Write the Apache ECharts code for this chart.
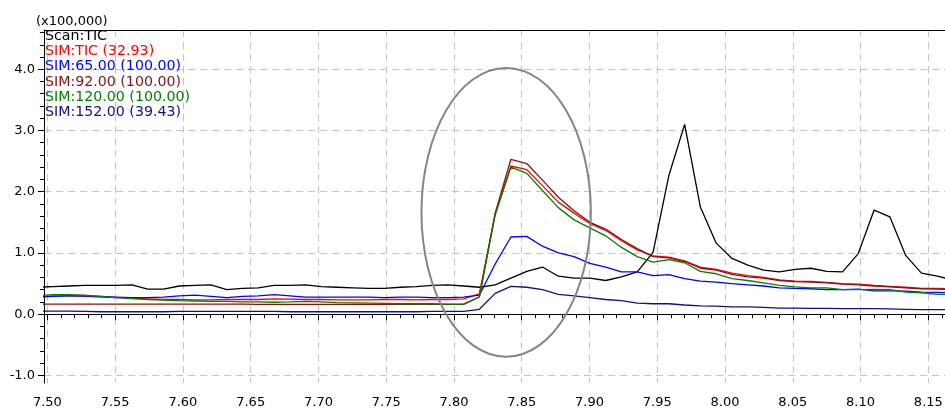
<!DOCTYPE html>
<html>
<head>
<meta charset="utf-8">
<style>
  html, body { margin: 0; padding: 0; background: #ffffff; }
  #chart { width: 945px; height: 408px; }
</style>
<script src="https://cdn.jsdelivr.net/npm/echarts@6/dist/echarts.min.js"></script>
</head>
<body>
<div id="chart"></div>
<script>
// Retention time (min) of each scan
const times = [
  7.4925, 7.5041, 7.5158, 7.5274, 7.5391, 7.5507, 7.5624, 7.5740, 7.5857, 7.5974,
  7.6090, 7.6207, 7.6323, 7.6440, 7.6556, 7.6673, 7.6789, 7.6906, 7.7022, 7.7139,
  7.7255, 7.7372, 7.7488, 7.7605, 7.7721, 7.7838, 7.7954, 7.8071, 7.8187, 7.8304,
  7.8420, 7.8537, 7.8653, 7.8770, 7.8886, 7.9003, 7.9119, 7.9236, 7.9352, 7.9469,
  7.9585, 7.9702, 7.9818, 7.9935, 8.0051, 8.0168, 8.0284, 8.0401, 8.0517, 8.0634,
  8.0750, 8.0867, 8.0983, 8.1100, 8.1216, 8.1333, 8.1449, 8.1566, 8.1682
];

// Intensities in units of 100,000
const scanTIC = [
  0.44, 0.45, 0.46, 0.47, 0.47, 0.47, 0.48, 0.41, 0.41, 0.46,
  0.47, 0.48, 0.40, 0.42, 0.43, 0.47, 0.47, 0.48, 0.45, 0.44,
  0.43, 0.42, 0.42, 0.44, 0.45, 0.47, 0.48, 0.46, 0.44, 0.48,
  0.59, 0.70, 0.77, 0.62, 0.59, 0.59, 0.55, 0.61, 0.69, 1.01,
  2.26, 3.10, 1.75, 1.16, 0.91, 0.80, 0.72, 0.69, 0.73, 0.75,
  0.70, 0.69, 0.99, 1.70, 1.59, 0.96, 0.67, 0.62, 0.56
];
const simTIC = [
  0.28, 0.30, 0.30, 0.29, 0.28, 0.27, 0.26, 0.25, 0.24, 0.24,
  0.235, 0.235, 0.24, 0.24, 0.24, 0.25, 0.245, 0.24, 0.24, 0.235,
  0.235, 0.235, 0.24, 0.24, 0.235, 0.24, 0.24, 0.25, 0.33, 1.64,
  2.42, 2.36, 2.10, 1.83, 1.65, 1.48, 1.37, 1.20, 1.05, 0.95,
  0.93, 0.87, 0.77, 0.73, 0.67, 0.63, 0.60, 0.56, 0.54, 0.535,
  0.52, 0.50, 0.49, 0.47, 0.455, 0.44, 0.42, 0.42, 0.41
];
const sim65 = [
  0.28, 0.29, 0.30, 0.30, 0.29, 0.28, 0.27, 0.27, 0.28, 0.30,
  0.31, 0.29, 0.27, 0.29, 0.30, 0.32, 0.30, 0.28, 0.28, 0.28,
  0.28, 0.28, 0.27, 0.28, 0.28, 0.27, 0.27, 0.28, 0.31, 0.82,
  1.26, 1.27, 1.11, 1.00, 0.94, 0.83, 0.77, 0.69, 0.69, 0.63,
  0.645, 0.58, 0.54, 0.525, 0.50, 0.48, 0.46, 0.43, 0.42, 0.415,
  0.40, 0.40, 0.41, 0.38, 0.38, 0.375, 0.36, 0.355, 0.35
];
const sim92 = [
  0.165, 0.165, 0.165, 0.165, 0.165, 0.165, 0.165, 0.165, 0.165, 0.165,
  0.165, 0.165, 0.165, 0.165, 0.16, 0.16, 0.16, 0.16, 0.16, 0.16,
  0.16, 0.16, 0.16, 0.16, 0.16, 0.16, 0.16, 0.16, 0.28, 1.65,
  2.53, 2.46, 2.19, 1.91, 1.69, 1.50, 1.39, 1.22, 1.07, 0.94,
  0.92, 0.86, 0.75, 0.72, 0.65, 0.61, 0.59, 0.55, 0.53, 0.525,
  0.51, 0.49, 0.48, 0.46, 0.445, 0.43, 0.415, 0.41, 0.40
];
const sim120 = [
  0.30, 0.32, 0.32, 0.31, 0.29, 0.27, 0.255, 0.24, 0.23, 0.22,
  0.215, 0.21, 0.21, 0.20, 0.20, 0.195, 0.20, 0.21, 0.20, 0.19,
  0.185, 0.18, 0.175, 0.17, 0.17, 0.17, 0.165, 0.165, 0.28, 1.62,
  2.40, 2.30, 2.02, 1.74, 1.54, 1.41, 1.28, 1.09, 0.94, 0.85,
  0.89, 0.84, 0.70, 0.66, 0.58, 0.55, 0.51, 0.47, 0.445, 0.43,
  0.43, 0.40, 0.40, 0.405, 0.40, 0.36, 0.35, 0.325, 0.32
];
const sim152 = [
  0.05, 0.05, 0.05, 0.045, 0.04, 0.04, 0.04, 0.04, 0.04, 0.045,
  0.045, 0.045, 0.045, 0.045, 0.045, 0.045, 0.04, 0.04, 0.04, 0.04,
  0.04, 0.04, 0.04, 0.04, 0.04, 0.045, 0.045, 0.045, 0.08, 0.34,
  0.455, 0.44, 0.40, 0.325, 0.30, 0.27, 0.24, 0.22, 0.18, 0.17,
  0.17, 0.15, 0.135, 0.13, 0.12, 0.12, 0.11, 0.10, 0.10, 0.095,
  0.095, 0.09, 0.09, 0.09, 0.085, 0.08, 0.075, 0.075, 0.075
];

const traceNames = ['Scan:TIC', 'SIM:TIC (32.93)', 'SIM:65.00 (100.00)', 'SIM:92.00 (100.00)', 'SIM:120.00 (100.00)', 'SIM:152.00 (39.43)'];
const traceValues = [scanTIC, simTIC, sim65, sim92, sim120, sim152];
const traceColors = ['#000000', '#ff0000', '#0000ff', '#8b1010', '#008000', '#10108a'];

const xTicks = [7.50, 7.55, 7.60, 7.65, 7.70, 7.75, 7.80, 7.85, 7.90, 7.95, 8.00, 8.05, 8.10, 8.15];
const yTicks = [-1.0, 0.0, 1.0, 2.0, 3.0, 4.0];
const xRange = [7.4975, 8.1623];
const yRange = [-1.124, 4.641];

// Highlight around the co-eluting SIM peak (data units)
const ringCenter = [7.8385, 1.663];
const ringRadius = [0.0625, 2.358];

const FONT = 'DejaVu Sans';
const gridColor = '#c4c4c4';

const chart = echarts.init(document.getElementById('chart'), null, { renderer: 'canvas' });

const series = traceNames.map((name, k) => ({
  name: name,
  type: 'line',
  xAxisIndex: 0,
  yAxisIndex: 0,
  data: times.map((t, i) => [t, traceValues[k][i]]),
  showSymbol: false,
  symbol: 'none',
  smooth: false,
  color: traceColors[k],
  lineStyle: { color: traceColors[k], width: 1.3 },
  emphasis: { disabled: true },
  clip: true
}));

chart.setOption({
  animation: false,
  backgroundColor: '#ffffff',
  grid: { left: 44, right: 0, top: 30, bottom: 25, containLabel: false, outerBoundsMode: 'none' },
  legend: {
    orient: 'vertical',
    left: 40,
    top: 28.5,
    padding: 0,
    itemGap: 0,
    itemWidth: 0,
    itemHeight: 14,
    selectedMode: false,
    textStyle: { fontFamily: FONT, fontSize: 14.2, lineHeight: 15.3 },
    data: traceNames.map((n, k) => ({ name: n, icon: 'none', textStyle: { color: traceColors[k] } }))
  },
  xAxis: [{
    type: 'value',
    min: xRange[0],
    max: xRange[1],
    minInterval: 0.05,
    maxInterval: 0.05,
    splitNumber: 13,
    axisLine: { show: true, lineStyle: { color: '#000000', width: 1 } },
    axisTick: { show: true, length: 6, customValues: xTicks, lineStyle: { color: '#000000' } },
    minorTick: { show: true, splitNumber: 5, length: 4, lineStyle: { color: '#000000' } },
    axisLabel: {
      customValues: xTicks,
      margin: 13,
      color: '#000000',
      fontFamily: FONT,
      fontSize: 13,
      formatter: v => v.toFixed(2)
    },
    splitLine: { show: true, lineStyle: { color: gridColor, type: [7, 5], width: 1 } }
  }, {
    type: 'value',
    position: 'top',
    min: xRange[0],
    max: xRange[1],
    axisLine: { show: true, onZero: false, lineStyle: { color: '#000000', width: 1 } },
    axisTick: { show: false },
    axisLabel: { show: false },
    splitLine: { show: false }
  }],
  yAxis: {
    type: 'value',
    min: yRange[0],
    max: yRange[1],
    minInterval: 1,
    maxInterval: 1,
    axisLine: { show: true, lineStyle: { color: '#000000', width: 1 } },
    axisTick: { show: true, length: 6, customValues: yTicks, lineStyle: { color: '#000000' } },
    minorTick: { show: true, splitNumber: 5, length: 4, lineStyle: { color: '#000000' } },
    axisLabel: {
      customValues: yTicks,
      margin: 9,
      color: '#000000',
      fontFamily: FONT,
      fontSize: 13,
      formatter: v => v.toFixed(1)
    },
    splitLine: { show: true, lineStyle: { color: gridColor, type: [7, 5], width: 1 } }
  },
  graphic: [{
    type: 'text',
    id: 'scaleNote',
    left: 36,
    top: 15,
    style: { text: '(x100,000)', fill: '#000000', font: '13px "DejaVu Sans"' }
  }],
  series: series
});

// Ellipse drawn in pixel space from its data-space centre and radii
const c = chart.convertToPixel({ xAxisIndex: 0, yAxisIndex: 0 }, ringCenter);
const e = chart.convertToPixel({ xAxisIndex: 0, yAxisIndex: 0 }, [ringCenter[0] + ringRadius[0], ringCenter[1] + ringRadius[1]]);
chart.setOption({
  graphic: [{
    type: 'ellipse',
    id: 'ring',
    z: 100,
    silent: true,
    shape: { cx: c[0], cy: c[1], rx: Math.abs(e[0] - c[0]), ry: Math.abs(e[1] - c[1]) },
    style: { fill: 'none', stroke: '#858585', lineWidth: 2 }
  }]
});
</script>
</body>
</html>
